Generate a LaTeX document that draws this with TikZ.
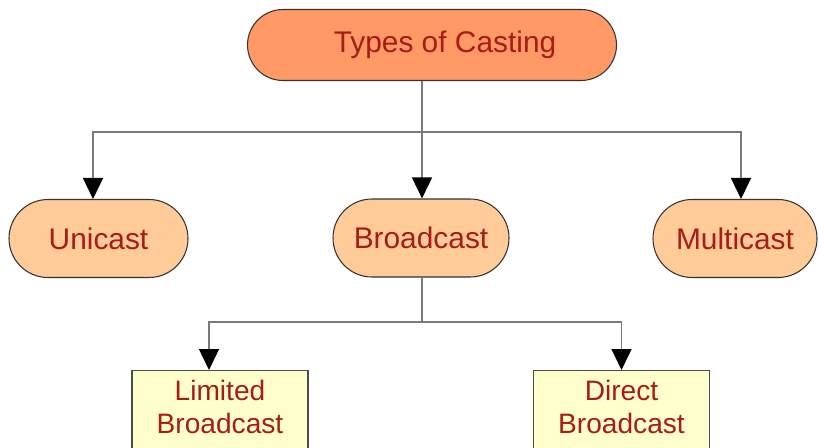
\documentclass[tikz,border=0pt]{standalone}
\usepackage{fontspec}
\setmainfont{Liberation Sans}
\usetikzlibrary{shapes.misc, arrows.meta}
\definecolor{racine}{HTML}{FF9966}
\definecolor{moyen}{HTML}{FFCC99}
\definecolor{feuille}{HTML}{FFFFCC}
\definecolor{texte}{HTML}{A81C16}
\definecolor{trait}{HTML}{7A7A7A}
\begin{document}
\begin{tikzpicture}[
    capsule/.style={rounded rectangle, draw=black!80, line width=0.6pt, text=texte,
      font=\fontsize{17}{20}\selectfont, minimum height=1.56cm, inner sep=0pt},
    feuillebox/.style={rectangle, draw=black!70, line width=0.6pt, fill=feuille, text=texte,
      align=center, font=\fontsize{16}{18.8}\selectfont, minimum width=3.52cm,
      inner ysep=0.19cm, text depth=1cm, anchor=north},
    lien/.style={trait, line width=0.8pt},
    fleche/.style={lien, -{Triangle[width=0.4cm, length=0.42cm, black]}},
  ]
  \useasboundingbox (0,0) rectangle (16.38,8.94);
  % Racine
  \node[capsule, fill=racine, minimum width=7.38cm, minimum height=1.42cm] (types)
        at (8.64,8.04) {\hspace*{0.52cm}Types of Casting};
  % Niveau 1
  \node[capsule, fill=moyen, minimum width=3.58cm] (uni)   at (1.97,4.17)  {Unicast};
  \node[capsule, fill=moyen, minimum width=3.52cm] (brd)   at (8.42,4.18)  {Broadcast};
  \node[capsule, fill=moyen, minimum width=3.28cm] (multi) at (14.70,4.17) {Multicast};
  % Niveau 2
  \node[feuillebox] (lim) at (4.40,1.54)  {Limited\\Broadcast};
  \node[feuillebox] (dir) at (12.43,1.54) {Direct\\Broadcast};
  % Liaisons
  \coordinate (split1) at (8.44,6.30);
  \coordinate (split2) at (8.44,2.50);
  \draw[lien] (types.south -| split1) -- (split1);
  \draw[fleche] (split1) -| ([xshift=-0.11cm]uni.north);
  \draw[fleche] (split1) -- (brd.north -| split1);
  \draw[fleche] (split1) -| ([xshift=0.12cm]multi.north);
  \draw[lien] (brd.south -| split2) -- (split2);
  \draw[fleche] (split2) -| ([xshift=-0.22cm]lim.north);
  \draw[fleche] (split2) -| (dir.north);
\end{tikzpicture}
\end{document}
